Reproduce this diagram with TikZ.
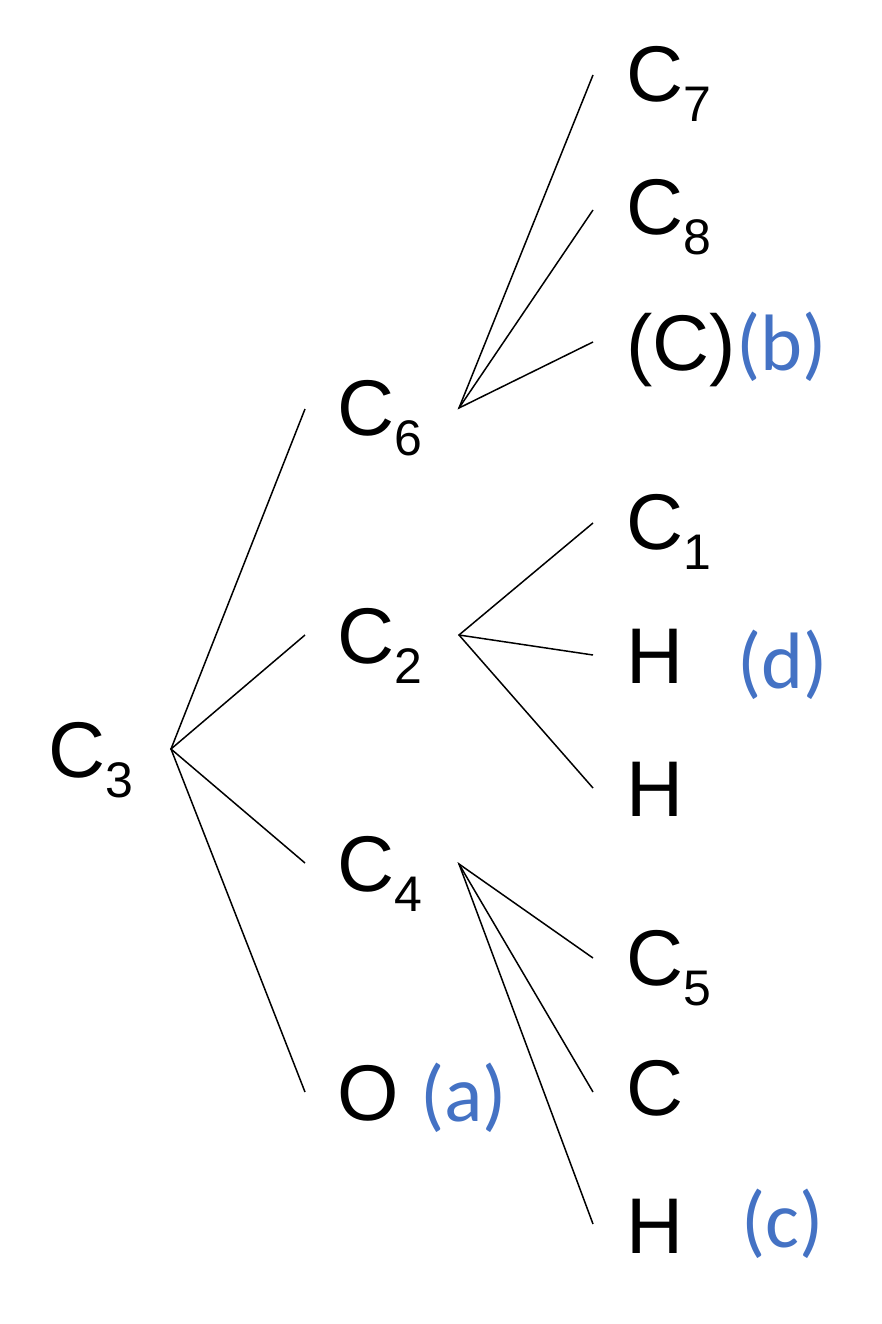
\documentclass[tikz,border=0pt]{standalone}
\usepackage{fontspec}
\setmainfont{Liberation Sans}
\newfontfamily\lblfont{Carlito}
\definecolor{lblblue}{HTML}{4472C4}
\newcommand{\sbs}[1]{\raisebox{-20pt}{\fontsize{50pt}{50pt}\selectfont #1}}
\begin{document}
\begin{tikzpicture}[x=1pt,y=-1pt,
  atom/.style={anchor=base west,inner sep=0pt,font=\fontsize{79pt}{79pt}\selectfont},
  lbl/.style={anchor=base west,inner sep=0pt,text=lblblue,font=\lblfont\fontsize{80pt}{80pt}\selectfont},
  bond/.style={line width=1.5pt}]
\useasboundingbox (0,0) rectangle (882,1324);
% atoms
\node[atom] (c3) at (48,777) {C\sbs{3}};
\node[atom] (c6) at (337,435) {C\sbs{6}};
\node[atom] (c2) at (337,663) {C\sbs{2}};
\node[atom] (c4) at (337,891) {C\sbs{4}};
\node[atom] (o) at (337,1120) {O};
\node[atom] (c7) at (626,102) {C\sbs{7}};
\node[atom] (c8) at (626,235) {C\sbs{8}};
\node[atom] (cc) at (626,370) {(C)};
\node[atom] (c1) at (626,549) {C\sbs{1}};
\node[atom] (h1) at (626,683) {H};
\node[atom] (h2) at (626,816) {H};
\node[atom] (c5) at (626,985) {C\sbs{5}};
\node[atom] (c) at (626,1115) {C};
\node[atom] (h3) at (626,1253) {H};
% labels
\node[lbl] (lb) at (cc.base east) {(b)};
\node[lbl] (ld) at (737,688) {(d)};
\node[lbl] (la) at (420,1121) {(a)};
\node[lbl] (lc) at (741,1247) {(c)};
% junctions and bond ends
\coordinate (j3) at (171,749);
\coordinate (j6) at (459,408);
\coordinate (j2) at (459,635);
\coordinate (j4) at (459,864);
\coordinate (e6) at (305,409);
\coordinate (e2) at (305,635);
\coordinate (e4) at (305,863);
\coordinate (eo) at (305,1092);
\coordinate (e7) at (593,75);
\coordinate (e8) at (593,210);
\coordinate (ecc) at (593,342);
\coordinate (e1) at (593,523);
\coordinate (eh1) at (593,655);
\coordinate (eh2) at (593,788);
\coordinate (e5) at (593,958);
\coordinate (ec) at (593,1092);
\coordinate (eh3) at (593,1224);
% bonds
\draw[bond] (e6) -- (j3) -- (eo);
\draw[bond] (e2) -- (j3) -- (e4);
\draw[bond] (e7) -- (j6) -- (ecc);
\draw[bond] (e8) -- (j6);
\draw[bond] (e1) -- (j2) -- (eh2);
\draw[bond] (eh1) -- (j2);
\draw[bond] (e5) -- (j4) -- (eh3);
\draw[bond] (ec) -- (j4);
\end{tikzpicture}
\end{document}
